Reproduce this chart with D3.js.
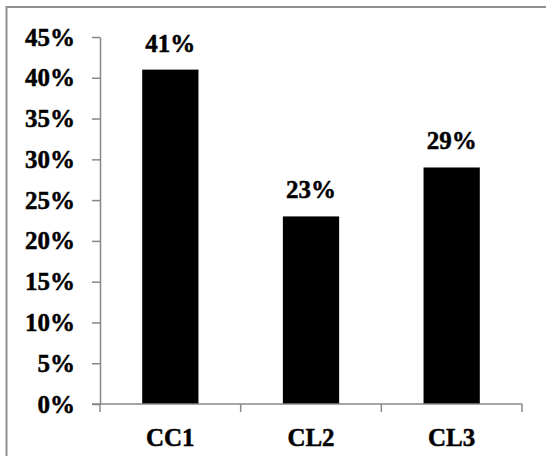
<!DOCTYPE html>
<html>
<head>
<meta charset="utf-8">
<script src="https://cdn.jsdelivr.net/npm/d3@7"></script>
<style>
  html, body { margin: 0; padding: 0; background: #fff; }
  svg { display: block; }
</style>
</head>
<body>
<svg id="chart" width="546" height="456"></svg>
<script>
// Share of each group
const categories = ["CC1", "CL2", "CL3"];
const values = [41, 23, 29];
const yTicks = [0, 5, 10, 15, 20, 25, 30, 35, 40, 45];

const FONT = "'Liberation Serif', 'Times New Roman', Times, serif";
const svg = d3.select("#chart");
const axisColor = "#878787";

function styleText(sel) {
  return sel
    .attr("font-family", FONT)
    .attr("font-weight", "bold")
    .attr("font-size", 25)
    .attr("fill", "#000")
    .attr("stroke", "#000")
    .attr("stroke-width", 0.5);
}

// Outer frame (extends past the right and bottom edges)
svg.append("rect")
  .attr("x", 6.5).attr("y", 7)
  .attr("width", 560).attr("height", 470)
  .attr("fill", "none")
  .attr("stroke", "#8f8f8f")
  .attr("stroke-width", 2);

const plot = { left: 100, right: 522, top: 37, bottom: 404 };

const x = d3.scaleBand()
  .domain(categories)
  .range([plot.left, plot.right])
  .paddingInner(0.6)
  .paddingOuter(0.3);

const y = d3.scaleLinear()
  .domain([0, 45])
  .range([plot.bottom, plot.top]);

// Bars
svg.append("g").selectAll("rect")
  .data(categories)
  .join("rect")
  .attr("x", (d) => x(d))
  .attr("y", (d, i) => y(values[i]))
  .attr("width", x.bandwidth())
  .attr("height", (d, i) => y(0) - y(values[i]))
  .attr("fill", "#000");

// Value labels above bars
svg.append("g").selectAll("text")
  .data(categories)
  .join("text")
  .attr("x", (d) => x(d) + x.bandwidth() / 2)
  .attr("y", (d, i) => y(values[i]) - 18)
  .attr("text-anchor", "middle")
  .call(styleText)
  .text((d, i) => values[i] + "%");

// Y axis
const yAxis = svg.append("g")
  .attr("transform", `translate(${plot.left},0)`)
  .call(d3.axisLeft(y).tickValues(yTicks).tickFormat((d) => d + "%").tickSize(8).tickSizeOuter(0).tickPadding(17));
yAxis.attr("font-family", null).attr("font-size", null);
yAxis.select(".domain").attr("stroke", axisColor).attr("stroke-width", 1.5);
yAxis.selectAll(".tick line").attr("stroke", axisColor).attr("stroke-width", 1.5);
yAxis.selectAll(".tick text").call(styleText);

// X axis: ticks sit on band boundaries
const xAxis = svg.append("g")
  .attr("transform", `translate(0,${plot.bottom})`);
xAxis.append("line")
  .attr("x1", plot.left - 8).attr("x2", plot.right)
  .attr("y1", 0).attr("y2", 0)
  .attr("stroke", axisColor).attr("stroke-width", 1.5);
const bounds = d3.range(categories.length + 1).map((i) => plot.left + (plot.right - plot.left) * i / categories.length);
xAxis.selectAll("line.tick")
  .data(bounds)
  .join("line")
  .attr("class", "tick")
  .attr("x1", (d) => d).attr("x2", (d) => d)
  .attr("y1", 0).attr("y2", 8)
  .attr("stroke", axisColor).attr("stroke-width", 1.5);
xAxis.selectAll("text")
  .data(categories)
  .join("text")
  .attr("x", (d) => x(d) + x.bandwidth() / 2)
  .attr("y", 42)
  .attr("text-anchor", "middle")
  .call(styleText)
  .text((d) => d);
</script>
</body>
</html>
